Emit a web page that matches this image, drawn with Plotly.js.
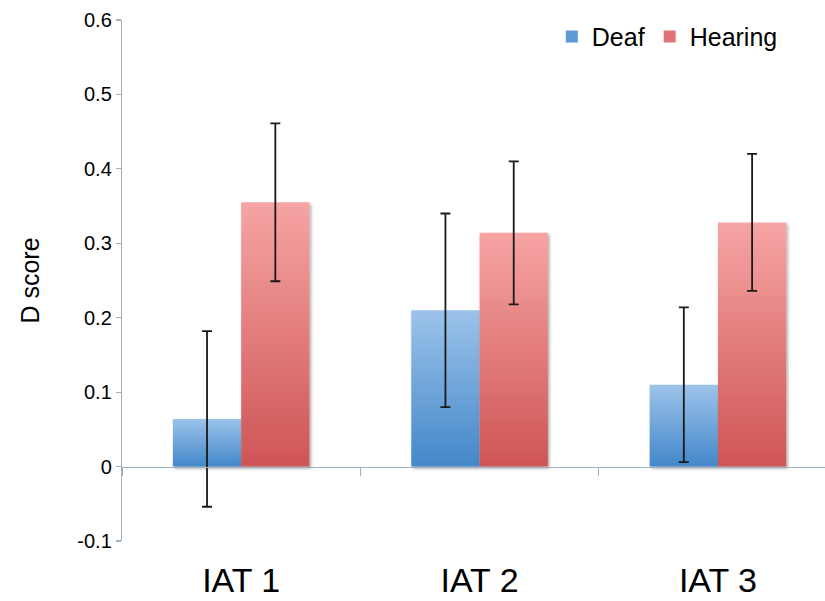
<!DOCTYPE html>
<html>
<head>
<meta charset="utf-8">
<script src="https://cdn.plot.ly/plotly-3.0.1.min.js"></script>
<style>html,body{margin:0;padding:0;background:#fff;}#chart{width:825px;height:601px;}</style>
</head>
<body>
<div id="chart"></div>
<script>
const categories = ['IAT 1', 'IAT 2', 'IAT 3'];
const deafValues = [0.064, 0.210, 0.110];
const deafErrors = [0.118, 0.130, 0.104];
const hearingValues = [0.355, 0.314, 0.328];
const hearingErrors = [0.106, 0.096, 0.092];
const yTickVals = [-0.1, 0, 0.1, 0.2, 0.3, 0.4, 0.5, 0.6];
const yTickText = ['-0.1', '0', '0.1', '0.2', '0.3', '0.4', '0.5', '0.6'];

const FONT = '"Liberation Sans", Arial, Helvetica, sans-serif';
const axisColor = '#9fb0bf';

const errStyle = {type: 'data', visible: true, color: '#1a1a1a', thickness: 1.8, width: 5};

const data = [
  {
    type: 'bar', name: 'Deaf', x: categories, y: deafValues,
    marker: {color: '#5d9ad6', line: {width: 0}},
    error_y: Object.assign({array: deafErrors}, errStyle)
  },
  {
    type: 'bar', name: 'Hearing', x: categories, y: hearingValues,
    marker: {color: '#e07474', line: {width: 0}},
    error_y: Object.assign({array: hearingErrors}, errStyle)
  }
];

const layout = {
  width: 825, height: 601,
  margin: {l: 122, r: 0, t: 19.5, b: 60, autoexpand: false},
  paper_bgcolor: '#ffffff', plot_bgcolor: '#ffffff',
  font: {family: FONT, color: '#000'},
  barmode: 'group', bargap: 0.427, bargroupgap: 0,
  showlegend: true,
  legend: {
    orientation: 'h', xref: 'paper', yref: 'paper',
    x: 0.94, xanchor: 'right', y: 0.968, yanchor: 'middle',
    font: {size: 25, family: FONT, color: '#000'},
    itemwidth: 30, traceorder: 'normal', bgcolor: 'rgba(0,0,0,0)'
  },
  xaxis: {
    type: 'category', range: [-0.5, 2.449],
    anchor: 'free', position: 0.1 / 0.7,
    showline: true, linecolor: axisColor, linewidth: 1.2,
    ticks: 'outside', tickson: 'boundaries', ticklen: 8, tickcolor: axisColor, tickwidth: 1.2,
    ticklabelstandoff: 83,
    tickfont: {size: 34, family: FONT, color: '#000'},
    showgrid: false, zeroline: false, fixedrange: true
  },
  yaxis: {
    range: [-0.1, 0.6], tickmode: 'array', tickvals: yTickVals, ticktext: yTickText,
    showline: true, linecolor: axisColor, linewidth: 1.2,
    ticks: 'outside', ticklen: 5, tickcolor: axisColor, tickwidth: 1.2,
    tickfont: {size: 20, family: FONT, color: '#000'},
    showgrid: false, zeroline: false,
    title: {text: 'D score', font: {size: 25, family: FONT, color: '#000'}, standoff: 30},
    fixedrange: true
  }
};

Plotly.newPlot('chart', data, layout, {displayModeBar: false, staticPlot: true}).then(function (gd) {
  const svg = gd.querySelector('.main-svg');
  const defs = svg.querySelector('defs');
  const ns = 'http://www.w3.org/2000/svg';
  function addGrad(id, top, bottom) {
    const g = document.createElementNS(ns, 'linearGradient');
    g.setAttribute('id', id);
    g.setAttribute('x1', '0'); g.setAttribute('y1', '0');
    g.setAttribute('x2', '0'); g.setAttribute('y2', '1');
    [[0, top], [1, bottom]].forEach(function (s) {
      const st = document.createElementNS(ns, 'stop');
      st.setAttribute('offset', s[0]);
      st.setAttribute('stop-color', s[1]);
      g.appendChild(st);
    });
    defs.appendChild(g);
  }
  addGrad('gradDeaf', '#9cc3ea', '#4387c9');
  addGrad('gradHearing', '#f6a4a4', '#cf5555');
  const f = document.createElementNS(ns, 'filter');
  f.setAttribute('id', 'barShadow');
  f.setAttribute('x', '-10%'); f.setAttribute('y', '-10%');
  f.setAttribute('width', '130%'); f.setAttribute('height', '130%');
  f.innerHTML = '<feDropShadow dx="1.5" dy="2" stdDeviation="1.5" flood-color="#000" flood-opacity="0.35"/>';
  defs.appendChild(f);
  const traces = gd.querySelectorAll('.barlayer .trace');
  const ids = ['gradDeaf', 'gradHearing'];
  traces.forEach(function (t, i) {
    t.querySelectorAll('.point path').forEach(function (p) {
      p.style.fill = 'url(#' + ids[i] + ')';
      p.style.filter = 'url(#barShadow)';
    });
  });
});
</script>
</body>
</html>
